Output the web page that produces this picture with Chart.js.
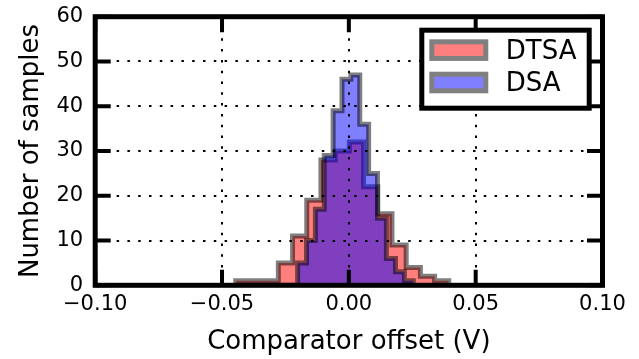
<!DOCTYPE html>
<html>
<head>
<meta charset="utf-8">
<script src="https://cdn.jsdelivr.net/npm/chart.js@4.4.0/dist/chart.umd.min.js"></script>
<style>
    html, body { margin: 0; padding: 0; background: #fff; }
</style>
</head>
<body>
<canvas id="offsetChart" width="639" height="359"></canvas>
<script>
// histogram bins (bin edges in V, counts per bin)
var dtsaEdges = [-0.0446, -0.0390, -0.0334, -0.0278, -0.0222, -0.0166, -0.0110, -0.0054,
                 0.0002, 0.0058, 0.0114, 0.0170, 0.0226, 0.0282, 0.0338, 0.0394];
var dtsaCounts = [1, 1, 1, 5, 11, 19, 28, 30, 32, 22, 16, 9, 4, 2, 1];

var dsaEdges = [-0.0448, -0.0413, -0.0378, -0.0343, -0.0307, -0.0272, -0.0237, -0.0202,
                -0.0167, -0.0132, -0.0097, -0.0062, -0.0027, 0.0008, 0.0043, 0.0078,
                0.0113, 0.0148, 0.0184, 0.0219, 0.0254];
var dsaCounts = [0, 0, 0, 0, 0, 0, 0, 5, 10, 17, 29, 39, 46, 47, 36, 25, 15, 6, 3, 1];

var xTickValues = [-0.10, -0.05, 0.00, 0.05, 0.10];
var yTickValues = [0, 10, 20, 30, 40, 50, 60];
var legendLabels = ['DTSA', 'DSA'];

var FONT = "'DejaVu Sans', 'Bitstream Vera Sans', sans-serif";

// step outline of a histogram: values hold from each edge to the next
function stepPoints(edges, counts) {
    var pts = [{ x: edges[0], y: 0 }];
    counts.forEach(function (c, i) { pts.push({ x: edges[i], y: c }); });
    pts.push({ x: edges[edges.length - 1], y: 0 });
    return pts;
}

function fmtX(v) {
    var s = Math.abs(v).toFixed(2);
    return v < -1e-9 ? '\u2212' + s : s;
}

// spines, inward ticks and the boxed legend (matplotlib classic look)
var frameAndLegend = {
    id: 'frameAndLegend',
    afterDraw: function (chart) {
        var ctx = chart.ctx, a = chart.chartArea;
        var xs = chart.scales.x, ys = chart.scales.y;
        var tl = 15.5;
        ctx.save();
        ctx.strokeStyle = '#000';
        ctx.lineWidth = 4;
        ctx.beginPath();
        xs.ticks.forEach(function (t) {
            var px = xs.getPixelForValue(t.value);
            ctx.moveTo(px, a.bottom); ctx.lineTo(px, a.bottom - tl);
            ctx.moveTo(px, a.top); ctx.lineTo(px, a.top + tl);
        });
        ys.ticks.forEach(function (t) {
            var py = ys.getPixelForValue(t.value);
            ctx.moveTo(a.left, py); ctx.lineTo(a.left + tl, py);
            ctx.moveTo(a.right, py); ctx.lineTo(a.right - tl, py);
        });
        ctx.stroke();
        ctx.lineWidth = 5;
        ctx.strokeRect(a.left, a.top, a.right - a.left, a.bottom - a.top);

        // legend
        var bx = a.right - 180.7, by = a.top + 13.5, bw = 167.4, bh = 78;
        ctx.fillStyle = '#fff';
        ctx.fillRect(bx, by, bw, bh);
        ctx.lineWidth = 5;
        ctx.strokeStyle = '#000';
        ctx.strokeRect(bx, by, bw, bh);

        ctx.font = '26px ' + FONT;
        ctx.textAlign = 'left';
        ctx.textBaseline = 'middle';
        legendLabels.forEach(function (lab, i) {
            var ds = chart.data.datasets.filter(function (d) { return d.label === lab; })[0];
            var px = bx + 10, py = by + 11.6 + i * 32.4, pw = 54, ph = 16.6;
            ctx.fillStyle = ds.backgroundColor;
            ctx.fillRect(px, py, pw, ph);
            ctx.strokeStyle = '#808080';
            ctx.lineWidth = 5;
            ctx.strokeRect(px, py, pw, ph);
            ctx.fillStyle = '#000';
            ctx.fillText(lab, bx + 84, py + ph / 2 + 1.8);
        });
        ctx.restore();
    }
};

var ctx = document.getElementById('offsetChart');

var offsetChart = new Chart(ctx, {
    type: 'line',
    data: {
        datasets: [{
            label: 'DSA',
            data: stepPoints(dsaEdges, dsaCounts),
            stepped: true,
            fill: 'origin',
            backgroundColor: 'rgba(0, 0, 255, 0.5)',
            borderColor: 'rgba(0, 0, 0, 0.5)',
            borderWidth: 5,
            pointRadius: 0
        }, {
            label: 'DTSA',
            data: stepPoints(dtsaEdges, dtsaCounts),
            stepped: true,
            fill: 'origin',
            backgroundColor: 'rgba(255, 0, 0, 0.5)',
            borderColor: 'rgba(0, 0, 0, 0.5)',
            borderWidth: 5,
            pointRadius: 0
        }]
    },
    options: {
        responsive: false,
        animation: false,
        devicePixelRatio: 1,
        layout: { padding: { left: 0, top: 16.7, right: 36.5, bottom: 0 } },
        plugins: {
            legend: { display: false },
            tooltip: { enabled: false }
        },
        scales: {
            x: {
                type: 'linear',
                min: -0.1,
                max: 0.1,
                afterBuildTicks: function (scale) {
                    scale.ticks = xTickValues.map(function (v) { return { value: v }; });
                },
                afterFit: function (scale) {
                    scale.height = 359 - 285.3;
                    scale.paddingLeft = 0;
                    scale.paddingRight = 0;
                },
                grid: {
                    z: 1,
                    color: '#000',
                    lineWidth: 2,
                    drawTicks: false
                },
                border: { display: false, dash: [2.5, 8.3] },
                ticks: {
                    padding: 7,
                    maxRotation: 0,
                    autoSkip: false,
                    color: '#000',
                    font: { family: FONT, size: 21 },
                    callback: function (v) { return fmtX(v); }
                },
                title: {
                    display: true,
                    text: 'Comparator offset (V)',
                    color: '#000',
                    font: { family: FONT, size: 26 },
                    padding: { top: 0, bottom: 1 }
                }
            },
            y: {
                min: 0,
                max: 60,
                afterBuildTicks: function (scale) {
                    scale.ticks = yTickValues.map(function (v) { return { value: v }; });
                },
                afterFit: function (scale) {
                    scale.width = 95.2;
                    scale.paddingTop = 0;
                    scale.paddingBottom = 0;
                },
                grid: {
                    z: 1,
                    color: '#000',
                    lineWidth: 2,
                    drawTicks: false
                },
                border: { display: false, dash: [2.5, 8.3] },
                ticks: {
                    padding: 12,
                    color: '#000',
                    font: { family: FONT, size: 21 },
                    callback: function (v) { return String(v); }
                },
                title: {
                    display: true,
                    text: 'Number of samples',
                    color: '#000',
                    font: { family: FONT, size: 26 },
                    padding: { top: 15.8, bottom: 0 }
                }
            }
        }
    },
    plugins: [frameAndLegend]
});
</script>
</body>
</html>
